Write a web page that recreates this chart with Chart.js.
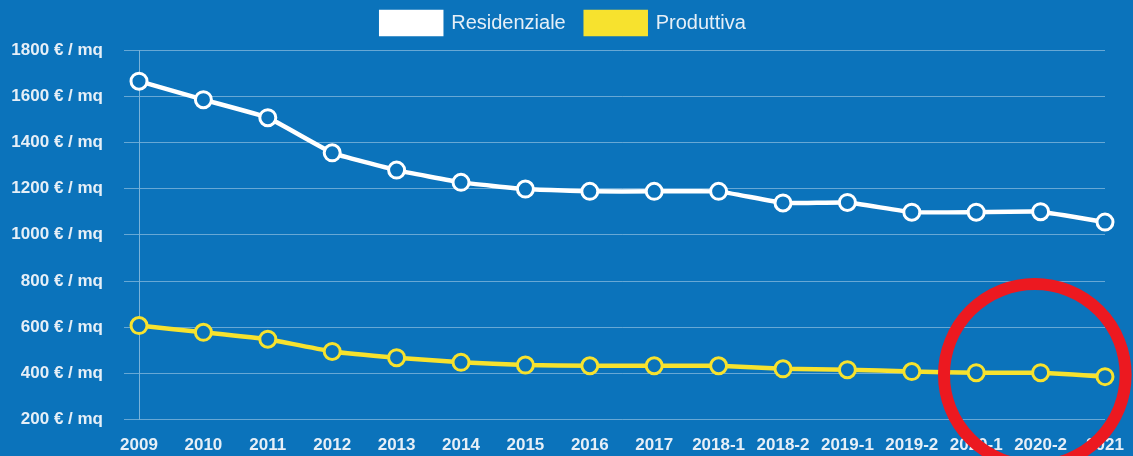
<!DOCTYPE html>
<html>
<head>
<meta charset="utf-8">
<script src="https://cdn.jsdelivr.net/npm/chart.js@4"></script>
<style>
  html, body { margin: 0; padding: 0; background: #0b73bb; }
  #wrap { width: 1133px; height: 456px; position: relative; }
</style>
</head>
<body>
<div id="wrap"><canvas id="grafico"></canvas></div>
<script>
const periodi = ['2009', '2010', '2011', '2012', '2013', '2014', '2015', '2016', '2017',
  '2018-1', '2018-2', '2019-1', '2019-2', '2020-1', '2020-2', '2021'];
const residenziale = [1665, 1585, 1507, 1355, 1280, 1227, 1198, 1188, 1188, 1188, 1138, 1140, 1098, 1098, 1100, 1055];
const produttiva = [607, 578, 548, 495, 468, 448, 436, 433, 433, 433, 420, 416, 408, 403, 403, 386];
const yTicks = [200, 400, 600, 800, 1000, 1200, 1400, 1600, 1800];

const sfondo = '#0b73bb';
const bianco = '#ffffff';
const giallo = '#f7e22e';

// un po' di spazio in più sotto la legenda, e legenda spostata a destra
const spazioLegenda = {
  id: 'spazioLegenda',
  beforeInit(chart) {
    const fit = chart.legend.fit;
    chart.legend.fit = function () {
      fit.call(this);
      this.height += 6;
    };
  },
  afterLayout(chart) {
    chart.legend.left += 7;
    chart.legend.right += 7;
  }
};

// cerchio rosso di evidenza sugli ultimi periodi
const cerchio = {
  id: 'cerchio',
  afterDraw(chart) {
    const x = chart.scales.x, y = chart.scales.y;
    const passo = x.getPixelForValue(1) - x.getPixelForValue(0);
    const cx = x.getPixelForValue(13.91);
    const cy = y.getPixelForValue(394);
    const ctx = chart.ctx;
    ctx.save();
    ctx.beginPath();
    ctx.arc(cx, cy, passo * 1.41, 0, Math.PI * 2);
    ctx.strokeStyle = '#ec1920';
    ctx.lineWidth = 12;
    ctx.stroke();
    ctx.restore();
  }
};

const canvas = document.querySelector('#grafico');
new Chart(canvas, {
  type: 'line',
  data: {
    labels: periodi,
    datasets: [{
      label: 'Residenziale',
      data: residenziale,
      borderColor: bianco,
      backgroundColor: bianco,
      borderWidth: 4.5,
      pointRadius: 8,
      pointBorderWidth: 3,
      pointBackgroundColor: sfondo,
      pointBorderColor: bianco,
      tension: 0.1
    }, {
      label: 'Produttiva',
      data: produttiva,
      borderColor: giallo,
      backgroundColor: giallo,
      borderWidth: 4.5,
      pointRadius: 8,
      pointBorderWidth: 3,
      pointBackgroundColor: sfondo,
      pointBorderColor: giallo,
      tension: 0.1
    }]
  },
  options: {
    responsive: true,
    maintainAspectRatio: false,
    animation: false,
    layout: { padding: { top: -8, right: 28, bottom: -16, left: 8 } },
    plugins: {
      legend: {
        labels: {
          boxWidth: 60,
          boxHeight: 22,
          padding: 20,
          color: '#e6eff7',
          font: { family: 'Arial, "Liberation Sans"', size: 20 }
        }
      },
      tooltip: { enabled: false }
    },
    scales: {
      x: {
        afterFit: (scale) => { scale.paddingLeft = 0; scale.paddingRight = 0; },
        grid: { display: false, drawTicks: false },
        border: { display: false },
        ticks: {
          color: '#e6eff7',
          padding: 16,
          maxRotation: 0,
          autoSkip: false,
          font: { family: 'Arial, "Liberation Sans"', size: 17, weight: 'bold' }
        }
      },
      y: {
        min: 200,
        max: 1800,
        afterBuildTicks: (scale) => { scale.ticks = yTicks.map(v => ({ value: v })); },
        afterFit: (scale) => { scale.width = 131; },
        grid: { color: 'rgba(255,255,255,0.38)', tickLength: 15, lineWidth: 1 },
        border: { color: 'rgba(255,255,255,0.45)' },
        ticks: {
          color: '#e6eff7',
          padding: 21,
          callback: (v) => v + ' € / mq',
          font: { family: 'Arial, "Liberation Sans"', size: 17, weight: 'bold' }
        }
      }
    }
  },
  plugins: [spazioLegenda, cerchio]
});
</script>
</body>
</html>
